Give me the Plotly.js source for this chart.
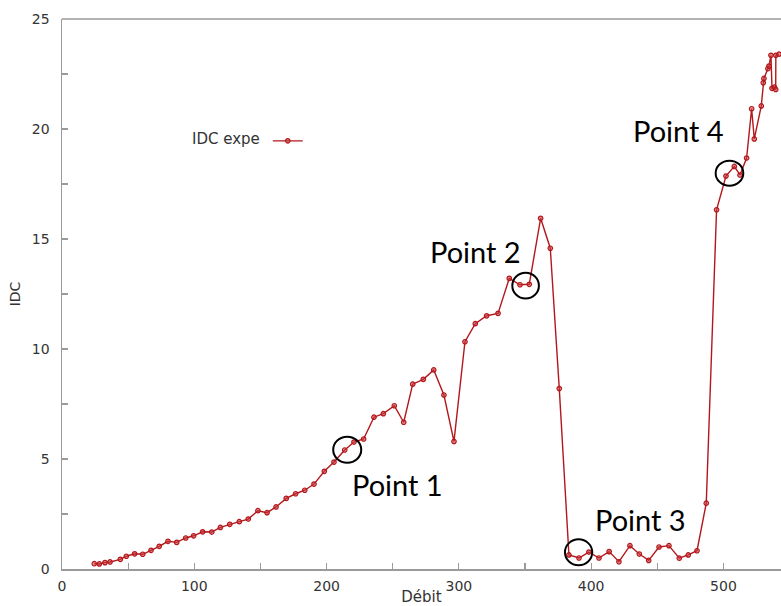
<!DOCTYPE html>
<html>
<head>
<meta charset="utf-8">
<script src="https://cdn.plot.ly/plotly-3.0.1.min.js"></script>
<style>html,body{margin:0;padding:0;background:#fff;}#chart{width:781px;height:606px;}</style>
</head>
<body>
<div id="chart"></div>
<script>
const debit = [24.4, 28.2, 32.5, 36.3, 44.1, 48.6, 54.9, 61.0, 67.3, 73.5, 80.1, 86.7, 93.5, 99.5, 106.3, 113.2, 119.7, 126.8, 134.0, 140.8, 148.1, 155.0, 161.8, 169.5, 176.6, 183.5, 190.5, 198.3, 205.6, 213.7, 220.7, 228.0, 235.8, 242.9, 251.2, 258.3, 265.1, 273.1, 281.0, 288.7, 296.3, 304.6, 312.4, 321.0, 329.6, 338.1, 346.2, 353.2, 361.8, 369.1, 375.9, 383.2, 390.8, 398.3, 405.9, 413.6, 421.0, 429.3, 436.4, 443.5, 451.3, 458.8, 466.6, 473.4, 480.0, 487.0, 494.8, 501.9, 508.2, 512.5, 517.5, 521.3, 523.3, 528.6, 530.1, 530.6, 533.6, 534.4, 535.9, 536.7, 538.5, 539.5, 539.6, 542.0];
const idc = [0.24, 0.23, 0.29, 0.32, 0.44, 0.58, 0.69, 0.67, 0.85, 1.03, 1.26, 1.21, 1.41, 1.51, 1.69, 1.68, 1.89, 2.03, 2.15, 2.27, 2.65, 2.56, 2.82, 3.21, 3.42, 3.58, 3.86, 4.44, 4.86, 5.41, 5.77, 5.91, 6.90, 7.06, 7.42, 6.67, 8.40, 8.62, 9.05, 7.91, 5.80, 10.33, 11.15, 11.51, 11.62, 13.21, 12.92, 12.94, 15.94, 14.58, 8.20, 0.64, 0.50, 0.77, 0.50, 0.79, 0.33, 1.06, 0.68, 0.39, 1.00, 1.06, 0.49, 0.64, 0.83, 2.99, 16.33, 17.86, 18.30, 17.91, 18.68, 20.92, 19.55, 21.05, 22.10, 22.30, 22.74, 22.86, 23.35, 21.85, 21.90, 21.80, 23.35, 23.40];

const seriesName = "IDC expe";
const xTitle = "Débit";
const yTitle = "IDC";
const pointLabels = ["Point 1", "Point 2", "Point 3", "Point 4"];
const labelX = [253.6, 312.2, 437.6, 466.0];
const labelY = [3.82, 14.45, 2.27, 19.95];
// ellipse annotation extents (data units)
const circX0 = [205.0, 340.4, 380.2, 494.1];
const circX1 = [226.2, 360.5, 400.8, 515.0];
const circY0 = [4.83, 12.29, 0.17, 17.42];
const circY1 = [6.01, 13.47, 1.35, 18.56];

const red = '#b3171c';
const trace = {
  x: debit, y: idc, type: 'scatter', mode: 'lines+markers', name: ' ',
  line: {color: red, width: 1.4},
  marker: {symbol: 'circle', size: 4.5, color: 'rgba(200,60,60,0.55)', line: {color: red, width: 1.2}},
  cliponaxis: true
};

const axisCommon = {
  showline: true, linecolor: '#9a9a9a', linewidth: 1.5,
  ticks: 'inside', ticklen: 6, tickcolor: '#9a9a9a', tickwidth: 1.2,
  showgrid: false, zeroline: false,
  tickfont: {family: 'DejaVu Sans', size: 14, color: '#333'}
};

const shapes = [{
  type: 'line', xref: 'paper', yref: 'paper', x0: 0, x1: 1, y0: 1, y1: 1,
  line: {color: '#9a9a9a', width: 1.5}
}];
for (let i = 0; i < pointLabels.length; i++) {
  shapes.push({type: 'circle', xref: 'x', yref: 'y', x0: circX0[i], x1: circX1[i], y0: circY0[i], y1: circY1[i],
    line: {color: '#000', width: 2}});
}
const annotations = pointLabels.map((t, i) => ({
  x: labelX[i], y: labelY[i], xref: 'x', yref: 'y', text: t, showarrow: false,
  font: {family: 'Lato', size: 29, color: '#000'}, xanchor: 'center', yanchor: 'middle'
}));

const layout = {
  width: 781, height: 606,
  margin: {l: 62, r: 0, t: 19, b: 37},
  paper_bgcolor: '#fff', plot_bgcolor: '#fff',
  showlegend: true,
  legend: {
    x: 0.178, y: 0.778, xanchor: 'left', yanchor: 'middle',
    title: {text: seriesName, side: 'left', font: {family: 'DejaVu Sans', size: 15, color: '#333'}},
    font: {family: 'DejaVu Sans', size: 15, color: '#333'},
    bgcolor: 'rgba(0,0,0,0)', itemwidth: 30
  },
  xaxis: Object.assign({}, axisCommon, {
    range: [0, 543.5], tickvals: [0, 100, 200, 300, 400, 500],
    ticklabelstandoff: 4,
    minor: {ticks: 'inside', ticklen: 6, tickcolor: '#9a9a9a', dtick: 50, tick0: 0, showgrid: false},
    title: {text: xTitle, font: {family: 'DejaVu Sans', size: 15, color: '#333'}, standoff: 0}
  }),
  yaxis: Object.assign({}, axisCommon, {
    range: [0, 25], tickvals: [0, 5, 10, 15, 20, 25],
    minor: {ticks: 'inside', ticklen: 6, tickcolor: '#9a9a9a', dtick: 2.5, tick0: 0, showgrid: false},
    ticklabelstandoff: 8,
    title: {text: yTitle, font: {family: 'DejaVu Sans', size: 14, color: '#333'}, standoff: 8}
  }),
  shapes: shapes,
  annotations: annotations
};

Plotly.newPlot('chart', [trace], layout, {displayModeBar: false, staticPlot: true});
</script>
</body>
</html>
